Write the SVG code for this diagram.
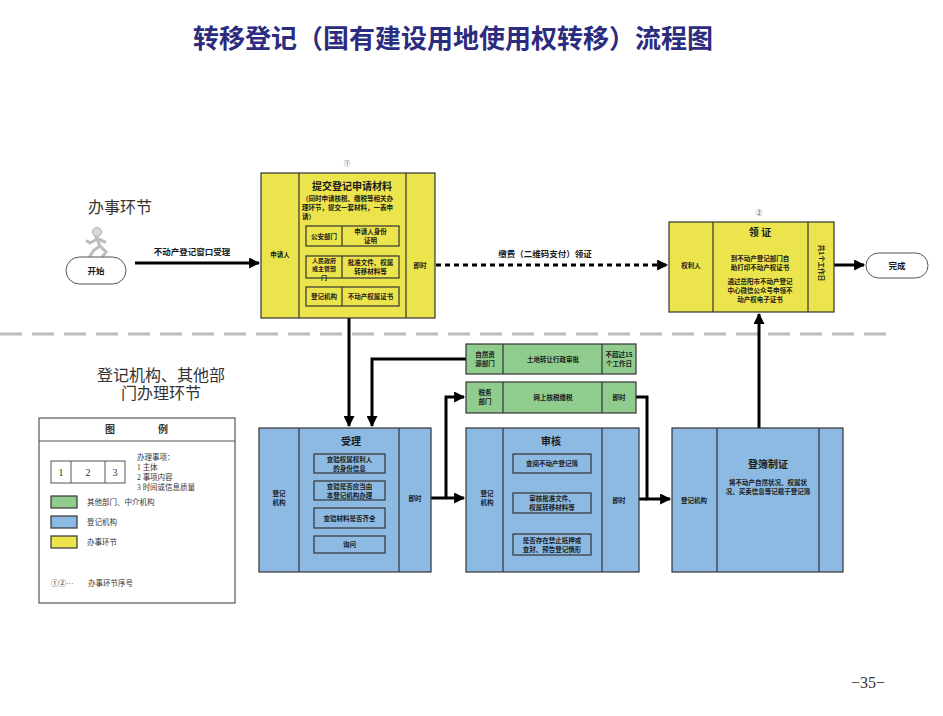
<svg xmlns="http://www.w3.org/2000/svg" width="943" height="716" viewBox="0 0 943 716">
<defs>
<style>
text{font-family:"Noto Sans CJK SC","Noto Sans",sans-serif;fill:#1a1a1a}
.t{font-size:6.5px;font-weight:bold;text-anchor:middle}
.s{font-size:6px;font-weight:bold;text-anchor:middle}
.l{font-size:6.5px;font-weight:bold;text-anchor:start}
.h{font-size:10px;font-weight:bold;text-anchor:middle}
.lab{font-size:8.5px;font-weight:bold;text-anchor:middle}
.sec{font-size:16px;font-family:"Liberation Serif","Noto Sans CJK SC",serif;fill:#333;text-anchor:middle}
.leg{font-size:7.5px;font-family:"Liberation Serif","Noto Sans CJK SC",serif;fill:#333}
.y{fill:#ECE44C;stroke:#333;stroke-width:1.2}
.b{fill:#8CBAE3;stroke:#333;stroke-width:1.2}
.g{fill:#90CC8E;stroke:#333;stroke-width:1.2}
.div{stroke:#333;stroke-width:1.2}
.ib{fill:none;stroke:#333;stroke-width:1.2}
.pill{fill:#fff;stroke:#555;stroke-width:1}
.c{fill:none;stroke:#000;stroke-width:3}
.ca{fill:none;stroke:#000;stroke-width:3;marker-end:url(#ah)}
</style>
<marker id="ah" viewBox="0 0 10 10" refX="9" refY="5" markerWidth="13" markerHeight="11" markerUnits="userSpaceOnUse" orient="auto">
<path d="M0,0 L10,5 L0,10 z" fill="#000"/>
</marker>
</defs>
<rect width="943" height="716" fill="#fff"/>

<text x="453" y="48" font-size="26" font-weight="bold" text-anchor="middle" style="fill:#2c2c7e">转移登记（国有建设用地使用权转移）流程图</text>

<text x="120" y="213" class="sec">办事环节</text>
<text x="161" y="381" class="sec">登记机构、其他部</text>
<text x="161" y="399" class="sec">门办理环节</text>

<line x1="0" y1="334" x2="892" y2="334" stroke="#bdbdbd" stroke-width="3" stroke-dasharray="22 10"/>

<g id="connectors">
<path class="ca" d="M135,263 H259"/>
<path class="ca" d="M436,265 H667" stroke-dasharray="5 4"/>
<path class="ca" d="M834,265 H864"/>
<path class="ca" d="M349,318 V426"/>
<path class="ca" d="M466,359 H372 V426"/>
<path class="c" d="M431,498 H446"/>
<path class="ca" d="M446,498 V397 H464"/>
<path class="ca" d="M446,498 H464"/>
<path class="c" d="M639,499 H647"/>
<path class="ca" d="M636,397 H647 V499 H670"/>
<path class="ca" d="M759,428 V314"/>
</g>

<g id="start">
<g fill="#d9d9d9" stroke="#9a9a9a" stroke-width="0.8" stroke-linecap="round">
<circle cx="97" cy="232" r="4.5"/>
<path d="M96,237 L100,246 L94,250 L90,256 M100,246 L106,252 L103,256 M97,239 L90,243 L87,241 M98,239 L105,242" fill="none" stroke="#bdbdbd" stroke-width="3"/>
</g>
<rect x="66" y="257" width="60" height="27" rx="13.5" class="pill"/>
<text x="96" y="274" class="lab">开始</text>
<text x="192" y="255" class="lab">不动产登记窗口受理</text>
</g>

<g id="node-submit">
<text x="347" y="166" class="t" style="font-weight:normal">①</text>
<rect x="261" y="173" width="174" height="145" class="y"/>
<line x1="299" y1="173" x2="299" y2="318" class="div"/>
<line x1="406" y1="173" x2="406" y2="318" class="div"/>
<text x="280" y="257" class="t">申请人</text>
<text x="420" y="268" class="t">即时</text>
<text x="352" y="190" class="h">提交登记申请材料</text>
<text x="302" y="201" class="l">（同时申请核税、缴税等相关办</text>
<text x="302" y="210" class="l">理环节，提交一套材料，一表申</text>
<text x="302" y="219" class="l">请）</text>
<rect x="306" y="226" width="93" height="20" class="ib"/>
<line x1="342" y1="226" x2="342" y2="246" class="div"/>
<text x="324" y="238.5" class="t">公安部门</text>
<text x="370.5" y="234" class="t">申请人身份</text>
<text x="370.5" y="243" class="t">证明</text>
<rect x="306" y="256" width="93" height="22" class="ib"/>
<line x1="342" y1="256" x2="342" y2="278" class="div"/>
<text x="324" y="262.5" class="s">人民政府</text>
<text x="324" y="271" class="s">或主管部</text>
<text x="324" y="279.5" class="s">门</text>
<text x="370.5" y="265" class="t">批准文件、权属</text>
<text x="370.5" y="274" class="t">转移材料等</text>
<rect x="306" y="287" width="93" height="19" class="ib"/>
<line x1="342" y1="287" x2="342" y2="306" class="div"/>
<text x="324" y="299" class="t">登记机构</text>
<text x="370.5" y="299" class="t">不动产权属证书</text>
</g>

<text x="545" y="257" class="lab">缴费（二维码支付）领证</text>

<g id="node-collect">
<text x="759" y="215" class="t" style="font-weight:normal">②</text>
<rect x="669" y="222" width="165" height="90" class="y"/>
<line x1="713" y1="222" x2="713" y2="312" class="div"/>
<line x1="808" y1="222" x2="808" y2="312" class="div"/>
<text x="691" y="268" class="t">权利人</text>
<text x="760" y="236" class="h">领  证</text>
<text x="760" y="261" class="t">到不动产登记部门自</text>
<text x="760" y="270" class="t">助打印不动产权证书</text>
<text x="760" y="284" class="t">通过岳阳市不动产登记</text>
<text x="760" y="293" class="t">中心微信公众号申领不</text>
<text x="760" y="302" class="t">动产权电子证书</text>
<text x="0" y="0" class="t" transform="translate(818.5,263) rotate(90)">共1个工作日</text>
</g>

<g id="end">
<rect x="866" y="253" width="62" height="25" rx="12.5" class="pill"/>
<text x="897" y="269" class="lab">完成</text>
</g>

<g id="node-natural">
<rect x="466" y="344" width="170" height="30" class="g"/>
<line x1="503" y1="344" x2="503" y2="374" class="div"/>
<line x1="602" y1="344" x2="602" y2="374" class="div"/>
<text x="485" y="356.5" class="t">自然资</text>
<text x="485" y="365.5" class="t">源部门</text>
<text x="553" y="362" class="t">土地转让行政审批</text>
<text x="619" y="356.5" class="t">不超过15</text>
<text x="619" y="365.5" class="t">个工作日</text>
</g>

<g id="node-tax">
<rect x="466" y="382" width="170" height="31" class="g"/>
<line x1="503" y1="382" x2="503" y2="413" class="div"/>
<line x1="602" y1="382" x2="602" y2="413" class="div"/>
<text x="485" y="394.5" class="t">税务</text>
<text x="485" y="403.5" class="t">部门</text>
<text x="553" y="400" class="t">网上核税缴税</text>
<text x="619" y="400" class="t">即时</text>
</g>

<g id="node-accept">
<rect x="259" y="428" width="172" height="144" class="b"/>
<line x1="299" y1="428" x2="299" y2="572" class="div"/>
<line x1="399" y1="428" x2="399" y2="572" class="div"/>
<text x="279" y="496" class="t">登记</text>
<text x="279" y="505" class="t">机构</text>
<text x="415" y="501" class="t">即时</text>
<text x="351" y="445" class="h">受理</text>
<rect x="314" y="454" width="71" height="19" class="ib"/>
<text x="349.5" y="461.5" class="t">查验权属权利人</text>
<text x="349.5" y="470.5" class="t">的身份信息</text>
<rect x="314" y="481" width="71" height="19" class="ib"/>
<text x="349.5" y="488.5" class="t">查验是否应当由</text>
<text x="349.5" y="497.5" class="t">本登记机构办理</text>
<rect x="314" y="508" width="71" height="20" class="ib"/>
<text x="349.5" y="520.5" class="t">查验材料是否齐全</text>
<rect x="314" y="536" width="71" height="17" class="ib"/>
<text x="349.5" y="547" class="t">询问</text>
</g>

<g id="node-review">
<rect x="466" y="428" width="173" height="144" class="b"/>
<line x1="503" y1="428" x2="503" y2="572" class="div"/>
<line x1="602" y1="428" x2="602" y2="572" class="div"/>
<text x="487" y="496" class="t">登记</text>
<text x="487" y="505" class="t">机构</text>
<text x="619" y="503" class="t">即时</text>
<text x="551" y="445" class="h">审核</text>
<rect x="513" y="454" width="78" height="19" class="ib"/>
<text x="552" y="466" class="t">查阅不动产登记簿</text>
<rect x="513" y="493" width="78" height="20" class="ib"/>
<text x="552" y="501" class="t">审核批准文件、</text>
<text x="552" y="510" class="t">权属转移材料等</text>
<rect x="513" y="534" width="78" height="21" class="ib"/>
<text x="552" y="542.5" class="t">是否存在禁止抵押或</text>
<text x="552" y="551.5" class="t">查封、预告登记情形</text>
</g>

<g id="node-register">
<rect x="672" y="428" width="171" height="144" class="b"/>
<line x1="717" y1="428" x2="717" y2="572" class="div"/>
<line x1="819" y1="428" x2="819" y2="572" class="div"/>
<text x="694" y="503" class="t">登记机构</text>
<text x="768" y="468" class="h">登簿制证</text>
<text x="768" y="485" class="t">将不动产自然状况、权属状</text>
<text x="768" y="494" class="t">况、买卖信息等记载于登记簿</text>
</g>

<g id="legend">
<rect x="39" y="418" width="196" height="185" fill="#fff" stroke="#555" stroke-width="1.2"/>
<line x1="39" y1="441" x2="235" y2="441" stroke="#555" stroke-width="1.2"/>
<text x="110" y="433" class="leg" style="font-size:10px;font-weight:bold" text-anchor="middle">图</text>
<text x="163" y="433" class="leg" style="font-size:10px;font-weight:bold" text-anchor="middle">例</text>
<rect x="51" y="461" width="74" height="22" fill="#fff" stroke="#555" stroke-width="1"/>
<line x1="71" y1="461" x2="71" y2="483" stroke="#555" stroke-width="1"/>
<line x1="105" y1="461" x2="105" y2="483" stroke="#555" stroke-width="1"/>
<text x="61" y="476" class="leg" style="font-size:10px" text-anchor="middle">1</text>
<text x="88" y="476" class="leg" style="font-size:10px" text-anchor="middle">2</text>
<text x="115" y="476" class="leg" style="font-size:10px" text-anchor="middle">3</text>
<text x="137" y="460" class="leg">办理事项：</text>
<text x="137" y="470" class="leg">1 主体</text>
<text x="137" y="480" class="leg">2 事项内容</text>
<text x="137" y="490" class="leg">3 时间或信息质量</text>
<rect x="51" y="496" width="26" height="12" class="g"/>
<text x="87" y="505" class="leg">其他部门、中介机构</text>
<rect x="51" y="516" width="26" height="12" class="b"/>
<text x="87" y="525" class="leg">登记机构</text>
<rect x="51" y="536" width="26" height="12" class="y"/>
<text x="87" y="545" class="leg">办事环节</text>
<text x="51" y="586" class="leg">①②···</text>
<text x="88" y="586" class="leg">办事环节序号</text>
</g>

<text x="868" y="688" font-size="16" text-anchor="middle" style="fill:#333;font-family:'Liberation Serif',serif">−35−</text>
</svg>
